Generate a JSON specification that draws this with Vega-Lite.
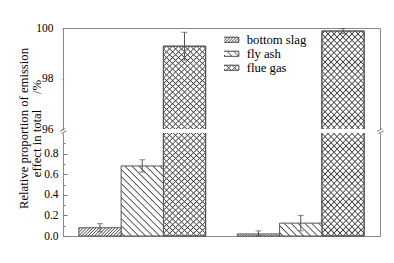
{
"$schema": "https://vega.github.io/schema/vega-lite/v6.json",
"width": 317, "height": 208,
"autosize": {"type": "none"},
"padding": {"left": 63, "top": 28, "right": 14, "bottom": 27},
"background": "#ffffff",
"config": {"font": "Liberation Serif, Times New Roman, DejaVu Serif, serif", "axis": {"labelFont": "Liberation Serif, Times New Roman, DejaVu Serif, serif", "titleFont": "Liberation Serif, Times New Roman, DejaVu Serif, serif"}, "legend": {"labelFont": "Liberation Serif, Times New Roman, DejaVu Serif, serif"}, "view": {"stroke": "#888888", "strokeWidth": 1, "strokeDash": [418, 4, 523, 4, 101]}},
"data": {"values": [
 {"group": "As", "series": "bottom slag", "value": 0.08, "lo": 0.04, "hi": 0.12},
 {"group": "As", "series": "fly ash", "value": 0.68, "lo": 0.62, "hi": 0.74},
 {"group": "As", "series": "flue gas", "value": 99.28, "lo": 98.73, "hi": 99.83},
 {"group": "Pb", "series": "bottom slag", "value": 0.02, "lo": 0.0, "hi": 0.05},
 {"group": "Pb", "series": "fly ash", "value": 0.125, "lo": 0.05, "hi": 0.2},
 {"group": "Pb", "series": "flue gas", "value": 99.88, "lo": 99.78, "hi": 99.98}
]},
"resolve": {"axis": {"y": "independent"}},
"layer": [
 {"transform": [{"filter": "datum.series === 'flue gas'"}],
  "mark": {"type": "bar", "stroke": "#555555", "strokeWidth": 1, "fill": {"gradient": "linear", "x1": 0, "y1": 0, "x2": 0.2486, "y2": 1.1609, "stops": [
{"offset":0.0075,"color":"#fff"},{"offset":0.0125,"color":"#444"},{"offset":0.0175,"color":"#fff"},
{"offset":0.0325,"color":"#fff"},{"offset":0.0375,"color":"#444"},{"offset":0.0425,"color":"#fff"},
{"offset":0.0575,"color":"#fff"},{"offset":0.0625,"color":"#444"},{"offset":0.0675,"color":"#fff"},
{"offset":0.0825,"color":"#fff"},{"offset":0.0875,"color":"#444"},{"offset":0.0925,"color":"#fff"},
{"offset":0.1075,"color":"#fff"},{"offset":0.1125,"color":"#444"},{"offset":0.1175,"color":"#fff"},
{"offset":0.1325,"color":"#fff"},{"offset":0.1375,"color":"#444"},{"offset":0.1425,"color":"#fff"},
{"offset":0.1575,"color":"#fff"},{"offset":0.1625,"color":"#444"},{"offset":0.1675,"color":"#fff"},
{"offset":0.1825,"color":"#fff"},{"offset":0.1875,"color":"#444"},{"offset":0.1925,"color":"#fff"},
{"offset":0.2075,"color":"#fff"},{"offset":0.2125,"color":"#444"},{"offset":0.2175,"color":"#fff"},
{"offset":0.2325,"color":"#fff"},{"offset":0.2375,"color":"#444"},{"offset":0.2425,"color":"#fff"},
{"offset":0.2575,"color":"#fff"},{"offset":0.2625,"color":"#444"},{"offset":0.2675,"color":"#fff"},
{"offset":0.2825,"color":"#fff"},{"offset":0.2875,"color":"#444"},{"offset":0.2925,"color":"#fff"},
{"offset":0.3075,"color":"#fff"},{"offset":0.3125,"color":"#444"},{"offset":0.3175,"color":"#fff"},
{"offset":0.3325,"color":"#fff"},{"offset":0.3375,"color":"#444"},{"offset":0.3425,"color":"#fff"},
{"offset":0.3575,"color":"#fff"},{"offset":0.3625,"color":"#444"},{"offset":0.3675,"color":"#fff"},
{"offset":0.3825,"color":"#fff"},{"offset":0.3875,"color":"#444"},{"offset":0.3925,"color":"#fff"},
{"offset":0.4075,"color":"#fff"},{"offset":0.4125,"color":"#444"},{"offset":0.4175,"color":"#fff"},
{"offset":0.4325,"color":"#fff"},{"offset":0.4375,"color":"#444"},{"offset":0.4425,"color":"#fff"},
{"offset":0.4575,"color":"#fff"},{"offset":0.4625,"color":"#444"},{"offset":0.4675,"color":"#fff"},
{"offset":0.4825,"color":"#fff"},{"offset":0.4875,"color":"#444"},{"offset":0.4925,"color":"#fff"},
{"offset":0.5075,"color":"#fff"},{"offset":0.5125,"color":"#444"},{"offset":0.5175,"color":"#fff"},
{"offset":0.5325,"color":"#fff"},{"offset":0.5375,"color":"#444"},{"offset":0.5425,"color":"#fff"},
{"offset":0.5575,"color":"#fff"},{"offset":0.5625,"color":"#444"},{"offset":0.5675,"color":"#fff"},
{"offset":0.5825,"color":"#fff"},{"offset":0.5875,"color":"#444"},{"offset":0.5925,"color":"#fff"},
{"offset":0.6075,"color":"#fff"},{"offset":0.6125,"color":"#444"},{"offset":0.6175,"color":"#fff"},
{"offset":0.6325,"color":"#fff"},{"offset":0.6375,"color":"#444"},{"offset":0.6425,"color":"#fff"},
{"offset":0.6575,"color":"#fff"},{"offset":0.6625,"color":"#444"},{"offset":0.6675,"color":"#fff"},
{"offset":0.6825,"color":"#fff"},{"offset":0.6875,"color":"#444"},{"offset":0.6925,"color":"#fff"},
{"offset":0.7075,"color":"#fff"},{"offset":0.7125,"color":"#444"},{"offset":0.7175,"color":"#fff"},
{"offset":0.7325,"color":"#fff"},{"offset":0.7375,"color":"#444"},{"offset":0.7425,"color":"#fff"},
{"offset":0.7575,"color":"#fff"},{"offset":0.7625,"color":"#444"},{"offset":0.7675,"color":"#fff"},
{"offset":0.7825,"color":"#fff"},{"offset":0.7875,"color":"#444"},{"offset":0.7925,"color":"#fff"},
{"offset":0.8075,"color":"#fff"},{"offset":0.8125,"color":"#444"},{"offset":0.8175,"color":"#fff"},
{"offset":0.8325,"color":"#fff"},{"offset":0.8375,"color":"#444"},{"offset":0.8425,"color":"#fff"},
{"offset":0.8575,"color":"#fff"},{"offset":0.8625,"color":"#444"},{"offset":0.8675,"color":"#fff"},
{"offset":0.8825,"color":"#fff"},{"offset":0.8875,"color":"#444"},{"offset":0.8925,"color":"#fff"},
{"offset":0.9075,"color":"#fff"},{"offset":0.9125,"color":"#444"},{"offset":0.9175,"color":"#fff"},
{"offset":0.9325,"color":"#fff"},{"offset":0.9375,"color":"#444"},{"offset":0.9425,"color":"#fff"},
{"offset":0.9575,"color":"#fff"},{"offset":0.9625,"color":"#444"},{"offset":0.9675,"color":"#fff"},
{"offset":0.9825,"color":"#fff"},{"offset":0.9875,"color":"#444"},{"offset":0.9925,"color":"#fff"}
  ]}},
  "encoding": {
   "x": {"field": "group", "type": "nominal", "scale": {"domain": ["As", "Pb"], "paddingInner": 0.2, "paddingOuter": 0.1},
         "axis": {"orient": "bottom", "title": null, "domain": false, "grid": false, "tickBand": "extent", "tickSize": -3, "tickColor": "#777777", "labelFont": "Liberation Serif, Times New Roman, DejaVu Serif, serif", "labelFontSize": 13, "labelColor": "#000000", "labelPadding": 8, "labelAngle": 0, "zindex": 1}},
   "xOffset": {"field": "series", "type": "nominal", "scale": {"domain": ["bottom slag", "fly ash", "flue gas"], "paddingInner": 0, "paddingOuter": 0}},
   "y": {"field": "value", "type": "quantitative", "scale": {"domain": [0, 1, 96, 100], "range": [208, 105, 101, 0], "nice": false, "zero": false},
         "axis": {"orient": "left", "values": [0, 0.1, 0.2, 0.3, 0.4, 0.5, 0.6, 0.7, 0.8, 0.9, 96, 97, 98, 99, 100],
                  "labelExpr": "datum.value >= 96 ? (datum.value % 2 === 0 ? format(datum.value, 'd') : '') : (round(datum.value * 10) % 2 === 0 ? format(datum.value, '.1f') : '')",
                  "tickSize": {"condition": {"test": "datum.value >= 96 ? datum.value % 2 === 0 : round(datum.value * 10) % 2 === 0", "value": -4}, "value": -2},
                  "domain": false, "grid": false, "tickColor": "#777777", "labelFont": "Liberation Serif, Times New Roman, DejaVu Serif, serif", "labelFontSize": 11.5, "labelColor": "#000000", "labelPadding": 9, "labelOverlap": false, "labelBound": false,
                  "title": ["Relative proportion of emission", "effect in total\u00a0\u00a0\u00a0\u00a0\u00a0/%"],
                  "titleFont": "Liberation Serif, Times New Roman, DejaVu Serif, serif", "titleFontSize": 12.7, "titleFontWeight": "normal", "titleColor": "#000000", "titleX": -40, "titleY": 100, "titleAngle": -90, "titleAlign": "center", "titleBaseline": "middle", "titleLineHeight": 13.5, "zindex": 1}}
  }},
 {"transform": [{"filter": "datum.series === 'flue gas'"}],
  "mark": {"type": "bar", "stroke": "#555555", "strokeWidth": 1, "fill": {"gradient": "linear", "x1": 0, "y1": 1, "x2": 0.2486, "y2": -0.1609, "stops": [
{"offset":0.0075,"color":"rgba(68,68,68,0)"},{"offset":0.0125,"color":"#444"},{"offset":0.0175,"color":"rgba(68,68,68,0)"},
{"offset":0.0325,"color":"rgba(68,68,68,0)"},{"offset":0.0375,"color":"#444"},{"offset":0.0425,"color":"rgba(68,68,68,0)"},
{"offset":0.0575,"color":"rgba(68,68,68,0)"},{"offset":0.0625,"color":"#444"},{"offset":0.0675,"color":"rgba(68,68,68,0)"},
{"offset":0.0825,"color":"rgba(68,68,68,0)"},{"offset":0.0875,"color":"#444"},{"offset":0.0925,"color":"rgba(68,68,68,0)"},
{"offset":0.1075,"color":"rgba(68,68,68,0)"},{"offset":0.1125,"color":"#444"},{"offset":0.1175,"color":"rgba(68,68,68,0)"},
{"offset":0.1325,"color":"rgba(68,68,68,0)"},{"offset":0.1375,"color":"#444"},{"offset":0.1425,"color":"rgba(68,68,68,0)"},
{"offset":0.1575,"color":"rgba(68,68,68,0)"},{"offset":0.1625,"color":"#444"},{"offset":0.1675,"color":"rgba(68,68,68,0)"},
{"offset":0.1825,"color":"rgba(68,68,68,0)"},{"offset":0.1875,"color":"#444"},{"offset":0.1925,"color":"rgba(68,68,68,0)"},
{"offset":0.2075,"color":"rgba(68,68,68,0)"},{"offset":0.2125,"color":"#444"},{"offset":0.2175,"color":"rgba(68,68,68,0)"},
{"offset":0.2325,"color":"rgba(68,68,68,0)"},{"offset":0.2375,"color":"#444"},{"offset":0.2425,"color":"rgba(68,68,68,0)"},
{"offset":0.2575,"color":"rgba(68,68,68,0)"},{"offset":0.2625,"color":"#444"},{"offset":0.2675,"color":"rgba(68,68,68,0)"},
{"offset":0.2825,"color":"rgba(68,68,68,0)"},{"offset":0.2875,"color":"#444"},{"offset":0.2925,"color":"rgba(68,68,68,0)"},
{"offset":0.3075,"color":"rgba(68,68,68,0)"},{"offset":0.3125,"color":"#444"},{"offset":0.3175,"color":"rgba(68,68,68,0)"},
{"offset":0.3325,"color":"rgba(68,68,68,0)"},{"offset":0.3375,"color":"#444"},{"offset":0.3425,"color":"rgba(68,68,68,0)"},
{"offset":0.3575,"color":"rgba(68,68,68,0)"},{"offset":0.3625,"color":"#444"},{"offset":0.3675,"color":"rgba(68,68,68,0)"},
{"offset":0.3825,"color":"rgba(68,68,68,0)"},{"offset":0.3875,"color":"#444"},{"offset":0.3925,"color":"rgba(68,68,68,0)"},
{"offset":0.4075,"color":"rgba(68,68,68,0)"},{"offset":0.4125,"color":"#444"},{"offset":0.4175,"color":"rgba(68,68,68,0)"},
{"offset":0.4325,"color":"rgba(68,68,68,0)"},{"offset":0.4375,"color":"#444"},{"offset":0.4425,"color":"rgba(68,68,68,0)"},
{"offset":0.4575,"color":"rgba(68,68,68,0)"},{"offset":0.4625,"color":"#444"},{"offset":0.4675,"color":"rgba(68,68,68,0)"},
{"offset":0.4825,"color":"rgba(68,68,68,0)"},{"offset":0.4875,"color":"#444"},{"offset":0.4925,"color":"rgba(68,68,68,0)"},
{"offset":0.5075,"color":"rgba(68,68,68,0)"},{"offset":0.5125,"color":"#444"},{"offset":0.5175,"color":"rgba(68,68,68,0)"},
{"offset":0.5325,"color":"rgba(68,68,68,0)"},{"offset":0.5375,"color":"#444"},{"offset":0.5425,"color":"rgba(68,68,68,0)"},
{"offset":0.5575,"color":"rgba(68,68,68,0)"},{"offset":0.5625,"color":"#444"},{"offset":0.5675,"color":"rgba(68,68,68,0)"},
{"offset":0.5825,"color":"rgba(68,68,68,0)"},{"offset":0.5875,"color":"#444"},{"offset":0.5925,"color":"rgba(68,68,68,0)"},
{"offset":0.6075,"color":"rgba(68,68,68,0)"},{"offset":0.6125,"color":"#444"},{"offset":0.6175,"color":"rgba(68,68,68,0)"},
{"offset":0.6325,"color":"rgba(68,68,68,0)"},{"offset":0.6375,"color":"#444"},{"offset":0.6425,"color":"rgba(68,68,68,0)"},
{"offset":0.6575,"color":"rgba(68,68,68,0)"},{"offset":0.6625,"color":"#444"},{"offset":0.6675,"color":"rgba(68,68,68,0)"},
{"offset":0.6825,"color":"rgba(68,68,68,0)"},{"offset":0.6875,"color":"#444"},{"offset":0.6925,"color":"rgba(68,68,68,0)"},
{"offset":0.7075,"color":"rgba(68,68,68,0)"},{"offset":0.7125,"color":"#444"},{"offset":0.7175,"color":"rgba(68,68,68,0)"},
{"offset":0.7325,"color":"rgba(68,68,68,0)"},{"offset":0.7375,"color":"#444"},{"offset":0.7425,"color":"rgba(68,68,68,0)"},
{"offset":0.7575,"color":"rgba(68,68,68,0)"},{"offset":0.7625,"color":"#444"},{"offset":0.7675,"color":"rgba(68,68,68,0)"},
{"offset":0.7825,"color":"rgba(68,68,68,0)"},{"offset":0.7875,"color":"#444"},{"offset":0.7925,"color":"rgba(68,68,68,0)"},
{"offset":0.8075,"color":"rgba(68,68,68,0)"},{"offset":0.8125,"color":"#444"},{"offset":0.8175,"color":"rgba(68,68,68,0)"},
{"offset":0.8325,"color":"rgba(68,68,68,0)"},{"offset":0.8375,"color":"#444"},{"offset":0.8425,"color":"rgba(68,68,68,0)"},
{"offset":0.8575,"color":"rgba(68,68,68,0)"},{"offset":0.8625,"color":"#444"},{"offset":0.8675,"color":"rgba(68,68,68,0)"},
{"offset":0.8825,"color":"rgba(68,68,68,0)"},{"offset":0.8875,"color":"#444"},{"offset":0.8925,"color":"rgba(68,68,68,0)"},
{"offset":0.9075,"color":"rgba(68,68,68,0)"},{"offset":0.9125,"color":"#444"},{"offset":0.9175,"color":"rgba(68,68,68,0)"},
{"offset":0.9325,"color":"rgba(68,68,68,0)"},{"offset":0.9375,"color":"#444"},{"offset":0.9425,"color":"rgba(68,68,68,0)"},
{"offset":0.9575,"color":"rgba(68,68,68,0)"},{"offset":0.9625,"color":"#444"},{"offset":0.9675,"color":"rgba(68,68,68,0)"},
{"offset":0.9825,"color":"rgba(68,68,68,0)"},{"offset":0.9875,"color":"#444"},{"offset":0.9925,"color":"rgba(68,68,68,0)"}
  ]}},
  "encoding": {
   "x": {"field": "group", "type": "nominal", "scale": {"domain": ["As", "Pb"], "paddingInner": 0.2, "paddingOuter": 0.1}, "axis": null},
   "xOffset": {"field": "series", "type": "nominal", "scale": {"domain": ["bottom slag", "fly ash", "flue gas"], "paddingInner": 0, "paddingOuter": 0}},
   "y": {"field": "value", "type": "quantitative", "scale": {"domain": [0, 1, 96, 100], "range": [208, 105, 101, 0], "nice": false, "zero": false}, "axis": null}
  }},
 {"transform": [{"filter": "datum.group === 'As' && datum.series === 'fly ash'"}],
  "mark": {"type": "bar", "stroke": "#555555", "strokeWidth": 1, "fill": {"gradient": "linear", "x1": 0, "y1": 1, "x2": 0.7094, "y2": -0.1754, "stops": [
{"offset":0.02025,"color":"#fff"},{"offset":0.03125,"color":"#444"},{"offset":0.04225,"color":"#fff"},
{"offset":0.08275,"color":"#fff"},{"offset":0.09375,"color":"#444"},{"offset":0.10475,"color":"#fff"},
{"offset":0.14525,"color":"#fff"},{"offset":0.15625,"color":"#444"},{"offset":0.16725,"color":"#fff"},
{"offset":0.20775,"color":"#fff"},{"offset":0.21875,"color":"#444"},{"offset":0.22975,"color":"#fff"},
{"offset":0.27025,"color":"#fff"},{"offset":0.28125,"color":"#444"},{"offset":0.29225,"color":"#fff"},
{"offset":0.33275,"color":"#fff"},{"offset":0.34375,"color":"#444"},{"offset":0.35475,"color":"#fff"},
{"offset":0.39525,"color":"#fff"},{"offset":0.40625,"color":"#444"},{"offset":0.41725,"color":"#fff"},
{"offset":0.45775,"color":"#fff"},{"offset":0.46875,"color":"#444"},{"offset":0.47975,"color":"#fff"},
{"offset":0.52025,"color":"#fff"},{"offset":0.53125,"color":"#444"},{"offset":0.54225,"color":"#fff"},
{"offset":0.58275,"color":"#fff"},{"offset":0.59375,"color":"#444"},{"offset":0.60475,"color":"#fff"},
{"offset":0.64525,"color":"#fff"},{"offset":0.65625,"color":"#444"},{"offset":0.66725,"color":"#fff"},
{"offset":0.70775,"color":"#fff"},{"offset":0.71875,"color":"#444"},{"offset":0.72975,"color":"#fff"},
{"offset":0.77025,"color":"#fff"},{"offset":0.78125,"color":"#444"},{"offset":0.79225,"color":"#fff"},
{"offset":0.83275,"color":"#fff"},{"offset":0.84375,"color":"#444"},{"offset":0.85475,"color":"#fff"},
{"offset":0.89525,"color":"#fff"},{"offset":0.90625,"color":"#444"},{"offset":0.91725,"color":"#fff"},
{"offset":0.95775,"color":"#fff"},{"offset":0.96875,"color":"#444"},{"offset":0.97975,"color":"#fff"}
  ]}},
  "encoding": {
   "x": {"field": "group", "type": "nominal", "scale": {"domain": ["As", "Pb"], "paddingInner": 0.2, "paddingOuter": 0.1}, "axis": null},
   "xOffset": {"field": "series", "type": "nominal", "scale": {"domain": ["bottom slag", "fly ash", "flue gas"], "paddingInner": 0, "paddingOuter": 0}},
   "y": {"field": "value", "type": "quantitative", "scale": {"domain": [0, 1, 96, 100], "range": [208, 105, 101, 0], "nice": false, "zero": false}, "axis": null}
  }},
 {"transform": [{"filter": "datum.group === 'Pb' && datum.series === 'fly ash'"}],
  "mark": {"type": "bar", "stroke": "#555555", "strokeWidth": 1, "fill": {"gradient": "linear", "x1": 0, "y1": 1, "x2": 1.1938, "y2": 0.6364, "stops": [
{"offset":0.0405,"color":"#fff"},{"offset":0.0625,"color":"#444"},{"offset":0.0845,"color":"#fff"},
{"offset":0.1655,"color":"#fff"},{"offset":0.1875,"color":"#444"},{"offset":0.2095,"color":"#fff"},
{"offset":0.2905,"color":"#fff"},{"offset":0.3125,"color":"#444"},{"offset":0.3345,"color":"#fff"},
{"offset":0.4155,"color":"#fff"},{"offset":0.4375,"color":"#444"},{"offset":0.4595,"color":"#fff"},
{"offset":0.5405,"color":"#fff"},{"offset":0.5625,"color":"#444"},{"offset":0.5845,"color":"#fff"},
{"offset":0.6655,"color":"#fff"},{"offset":0.6875,"color":"#444"},{"offset":0.7095,"color":"#fff"},
{"offset":0.7905,"color":"#fff"},{"offset":0.8125,"color":"#444"},{"offset":0.8345,"color":"#fff"},
{"offset":0.9155,"color":"#fff"},{"offset":0.9375,"color":"#444"},{"offset":0.9595,"color":"#fff"}
  ]}},
  "encoding": {
   "x": {"field": "group", "type": "nominal", "scale": {"domain": ["As", "Pb"], "paddingInner": 0.2, "paddingOuter": 0.1}, "axis": null},
   "xOffset": {"field": "series", "type": "nominal", "scale": {"domain": ["bottom slag", "fly ash", "flue gas"], "paddingInner": 0, "paddingOuter": 0}},
   "y": {"field": "value", "type": "quantitative", "scale": {"domain": [0, 1, 96, 100], "range": [208, 105, 101, 0], "nice": false, "zero": false}, "axis": null}
  }},
 {"transform": [{"filter": "datum.group === 'As' && datum.series === 'bottom slag'"}],
  "mark": {"type": "bar", "stroke": "#555555", "strokeWidth": 1, "fill": {"gradient": "linear", "x1": 0, "y1": 0, "x2": 1.1512, "y2": 0.2244, "stops": [
{"offset":0.01125,"color":"#fff"},{"offset":0.03125,"color":"#444"},{"offset":0.05125,"color":"#fff"},
{"offset":0.07375,"color":"#fff"},{"offset":0.09375,"color":"#444"},{"offset":0.11375,"color":"#fff"},
{"offset":0.13625,"color":"#fff"},{"offset":0.15625,"color":"#444"},{"offset":0.17625,"color":"#fff"},
{"offset":0.19875,"color":"#fff"},{"offset":0.21875,"color":"#444"},{"offset":0.23875,"color":"#fff"},
{"offset":0.26125,"color":"#fff"},{"offset":0.28125,"color":"#444"},{"offset":0.30125,"color":"#fff"},
{"offset":0.32375,"color":"#fff"},{"offset":0.34375,"color":"#444"},{"offset":0.36375,"color":"#fff"},
{"offset":0.38625,"color":"#fff"},{"offset":0.40625,"color":"#444"},{"offset":0.42625,"color":"#fff"},
{"offset":0.44875,"color":"#fff"},{"offset":0.46875,"color":"#444"},{"offset":0.48875,"color":"#fff"},
{"offset":0.51125,"color":"#fff"},{"offset":0.53125,"color":"#444"},{"offset":0.55125,"color":"#fff"},
{"offset":0.57375,"color":"#fff"},{"offset":0.59375,"color":"#444"},{"offset":0.61375,"color":"#fff"},
{"offset":0.63625,"color":"#fff"},{"offset":0.65625,"color":"#444"},{"offset":0.67625,"color":"#fff"},
{"offset":0.69875,"color":"#fff"},{"offset":0.71875,"color":"#444"},{"offset":0.73875,"color":"#fff"},
{"offset":0.76125,"color":"#fff"},{"offset":0.78125,"color":"#444"},{"offset":0.80125,"color":"#fff"},
{"offset":0.82375,"color":"#fff"},{"offset":0.84375,"color":"#444"},{"offset":0.86375,"color":"#fff"},
{"offset":0.88625,"color":"#fff"},{"offset":0.90625,"color":"#444"},{"offset":0.92625,"color":"#fff"},
{"offset":0.94875,"color":"#fff"},{"offset":0.96875,"color":"#444"},{"offset":0.98875,"color":"#fff"}
  ]}},
  "encoding": {
   "x": {"field": "group", "type": "nominal", "scale": {"domain": ["As", "Pb"], "paddingInner": 0.2, "paddingOuter": 0.1}, "axis": null},
   "xOffset": {"field": "series", "type": "nominal", "scale": {"domain": ["bottom slag", "fly ash", "flue gas"], "paddingInner": 0, "paddingOuter": 0}},
   "y": {"field": "value", "type": "quantitative", "scale": {"domain": [0, 1, 96, 100], "range": [208, 105, 101, 0], "nice": false, "zero": false}, "axis": null}
  }},
 {"transform": [{"filter": "datum.group === 'Pb' && datum.series === 'bottom slag'"}],
  "mark": {"type": "bar", "stroke": "#555555", "strokeWidth": 1, "fill": {"gradient": "linear", "x1": 0, "y1": 0, "x2": 1.0463, "y2": 0.051, "stops": [
{"offset":0.01125,"color":"#fff"},{"offset":0.03125,"color":"#444"},{"offset":0.05125,"color":"#fff"},
{"offset":0.07375,"color":"#fff"},{"offset":0.09375,"color":"#444"},{"offset":0.11375,"color":"#fff"},
{"offset":0.13625,"color":"#fff"},{"offset":0.15625,"color":"#444"},{"offset":0.17625,"color":"#fff"},
{"offset":0.19875,"color":"#fff"},{"offset":0.21875,"color":"#444"},{"offset":0.23875,"color":"#fff"},
{"offset":0.26125,"color":"#fff"},{"offset":0.28125,"color":"#444"},{"offset":0.30125,"color":"#fff"},
{"offset":0.32375,"color":"#fff"},{"offset":0.34375,"color":"#444"},{"offset":0.36375,"color":"#fff"},
{"offset":0.38625,"color":"#fff"},{"offset":0.40625,"color":"#444"},{"offset":0.42625,"color":"#fff"},
{"offset":0.44875,"color":"#fff"},{"offset":0.46875,"color":"#444"},{"offset":0.48875,"color":"#fff"},
{"offset":0.51125,"color":"#fff"},{"offset":0.53125,"color":"#444"},{"offset":0.55125,"color":"#fff"},
{"offset":0.57375,"color":"#fff"},{"offset":0.59375,"color":"#444"},{"offset":0.61375,"color":"#fff"},
{"offset":0.63625,"color":"#fff"},{"offset":0.65625,"color":"#444"},{"offset":0.67625,"color":"#fff"},
{"offset":0.69875,"color":"#fff"},{"offset":0.71875,"color":"#444"},{"offset":0.73875,"color":"#fff"},
{"offset":0.76125,"color":"#fff"},{"offset":0.78125,"color":"#444"},{"offset":0.80125,"color":"#fff"},
{"offset":0.82375,"color":"#fff"},{"offset":0.84375,"color":"#444"},{"offset":0.86375,"color":"#fff"},
{"offset":0.88625,"color":"#fff"},{"offset":0.90625,"color":"#444"},{"offset":0.92625,"color":"#fff"},
{"offset":0.94875,"color":"#fff"},{"offset":0.96875,"color":"#444"},{"offset":0.98875,"color":"#fff"}
  ]}},
  "encoding": {
   "x": {"field": "group", "type": "nominal", "scale": {"domain": ["As", "Pb"], "paddingInner": 0.2, "paddingOuter": 0.1}, "axis": null},
   "xOffset": {"field": "series", "type": "nominal", "scale": {"domain": ["bottom slag", "fly ash", "flue gas"], "paddingInner": 0, "paddingOuter": 0}},
   "y": {"field": "value", "type": "quantitative", "scale": {"domain": [0, 1, 96, 100], "range": [208, 105, 101, 0], "nice": false, "zero": false}, "axis": null}
  }},
 {"mark": {"type": "rect", "color": "#ffffff"},
  "encoding": {
   "y": {"datum": 1, "type": "quantitative", "scale": {"domain": [0, 1, 96, 100], "range": [208, 105, 101, 0], "nice": false, "zero": false}, "axis": null},
   "y2": {"datum": 96}
  }},
 {"mark": {"type": "rule", "color": "#555555", "strokeWidth": 1},
  "encoding": {
   "x": {"field": "group", "type": "nominal", "scale": {"domain": ["As", "Pb"], "paddingInner": 0.2, "paddingOuter": 0.1}, "axis": null},
   "xOffset": {"field": "series", "type": "nominal", "scale": {"domain": ["bottom slag", "fly ash", "flue gas"], "paddingInner": 0, "paddingOuter": 0}},
   "y": {"field": "lo", "type": "quantitative", "scale": {"domain": [0, 1, 96, 100], "range": [208, 105, 101, 0], "nice": false, "zero": false},
         "axis": {"orient": "right", "values": [48.5], "labelExpr": "'='", "ticks": false, "domain": false, "grid": false, "title": null, "labelAngle": -30, "labelAlign": "center", "labelBaseline": "middle", "labelPadding": 0, "labelFont": "Liberation Serif, Times New Roman, DejaVu Serif, serif", "labelFontSize": 13, "labelColor": "#444444", "labelOverlap": false, "labelBound": false, "zindex": 1}},
   "y2": {"field": "hi"}
  }},
 {"mark": {"type": "tick", "orient": "horizontal", "size": 6, "thickness": 1, "color": "#555555"},
  "encoding": {
   "x": {"field": "group", "type": "nominal", "scale": {"domain": ["As", "Pb"], "paddingInner": 0.2, "paddingOuter": 0.1}, "axis": null},
   "xOffset": {"field": "series", "type": "nominal", "scale": {"domain": ["bottom slag", "fly ash", "flue gas"], "paddingInner": 0, "paddingOuter": 0}},
   "y": {"field": "hi", "type": "quantitative", "scale": {"domain": [0, 1, 96, 100], "range": [208, 105, 101, 0], "nice": false, "zero": false},
         "axis": {"orient": "left", "values": [48.5], "labelExpr": "'='", "ticks": false, "domain": false, "grid": false, "title": null, "labelAngle": -30, "labelAlign": "center", "labelBaseline": "middle", "labelPadding": 0, "labelFont": "Liberation Serif, Times New Roman, DejaVu Serif, serif", "labelFontSize": 13, "labelColor": "#444444", "labelOverlap": false, "labelBound": false, "zindex": 1}}
  }},
 {"mark": {"type": "tick", "orient": "horizontal", "size": 6, "thickness": 1, "color": "#555555"},
  "encoding": {
   "x": {"field": "group", "type": "nominal", "scale": {"domain": ["As", "Pb"], "paddingInner": 0.2, "paddingOuter": 0.1}, "axis": null},
   "xOffset": {"field": "series", "type": "nominal", "scale": {"domain": ["bottom slag", "fly ash", "flue gas"], "paddingInner": 0, "paddingOuter": 0}},
   "y": {"field": "lo", "type": "quantitative", "scale": {"domain": [0, 1, 96, 100], "range": [208, 105, 101, 0], "nice": false, "zero": false}, "axis": null}
  }},
 {"mark": {"type": "point", "opacity": 0, "filled": false, "color": "#444444", "strokeWidth": 1},
  "encoding": {
   "x": {"field": "group", "type": "nominal", "scale": {"domain": ["As", "Pb"], "paddingInner": 0.2, "paddingOuter": 0.1}, "axis": null},
   "xOffset": {"field": "series", "type": "nominal", "scale": {"domain": ["bottom slag", "fly ash", "flue gas"], "paddingInner": 0, "paddingOuter": 0}},
   "y": {"field": "value", "type": "quantitative", "scale": {"domain": [0, 1, 96, 100], "range": [208, 105, 101, 0], "nice": false, "zero": false}, "axis": null},
   "shape": {"field": "series", "type": "nominal",
     "scale": {"domain": ["bottom slag", "fly ash", "flue gas"], "range": [
       "M-2,-0.6H2V0.6H-2Z M-2,0L-1.4,-0.6 M-1.9,0.6L-0.7,-0.6 M-1.2,0.6L0,-0.6 M-0.5,0.6L0.7,-0.6 M0.2,0.6L1.4,-0.6 M0.9,0.6L2,-0.5 M1.6,0.6L2,0.2",
       "M-2,-0.6H2V0.6H-2Z M-2,-0.2L-1.2,0.6 M-0.8,-0.6L0.4,0.6 M0.8,-0.6L2,0.6",
       "M-2,-0.6H2V0.6H-2Z M-2,0.2L-1.2,-0.6 M-1,0.6L0.2,-0.6 M0.4,0.6L1.6,-0.6 M1.8,0.6L2,0.4 M-2,-0.2L-1.2,0.6 M-1,-0.6L0.2,0.6 M0.4,-0.6L1.6,0.6 M1.8,-0.6L2,-0.4"]},
     "legend": {"title": null, "orient": "none", "legendX": 161, "legendY": 6, "clipHeight": 11.5, "symbolSize": 72, "symbolStrokeWidth": 1, "symbolStrokeColor": "#444444", "symbolFillColor": "#ffffff", "symbolOpacity": 1, "labelFont": "Liberation Serif, Times New Roman, DejaVu Serif, serif", "labelFontSize": 12.7, "labelColor": "#000000", "labelOffset": 10, "rowPadding": 0, "padding": 0, "symbolOffset": 0}}
  }}
]
}
